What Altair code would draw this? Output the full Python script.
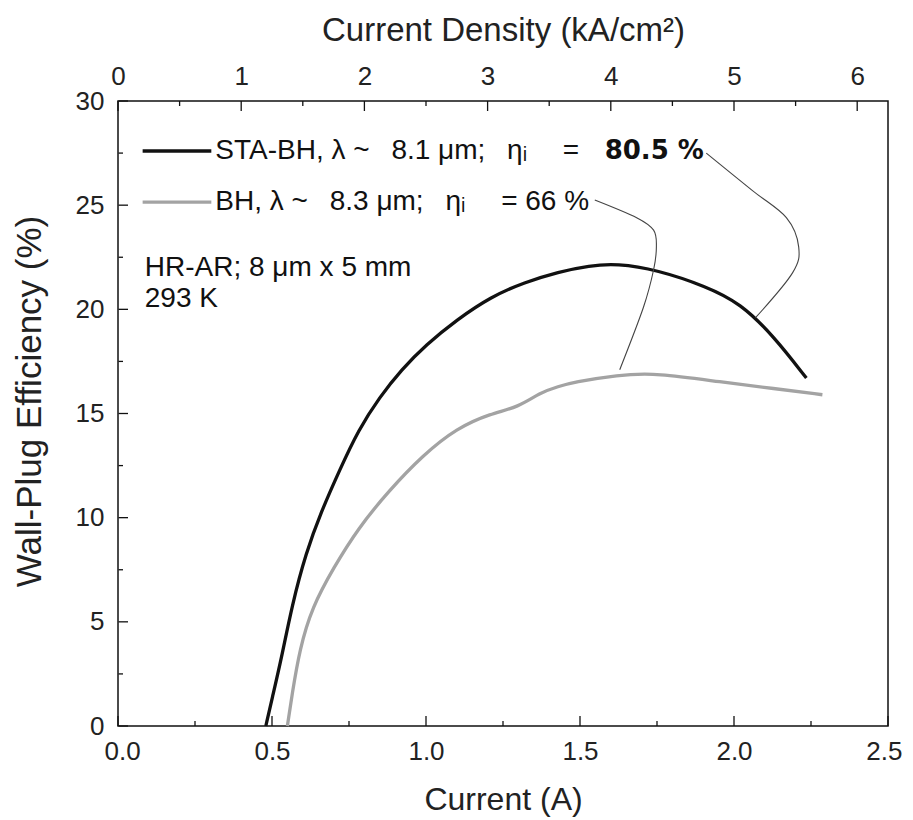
import altair as alt
import pandas as pd

# ---------------- data ----------------
series_names = ["STA-BH", "BH"]

sta_current = [0.48, 0.50, 0.53, 0.565, 0.61, 0.66, 0.72, 0.78, 0.85, 0.92, 1.0, 1.1,
               1.21, 1.32, 1.43, 1.53, 1.62, 1.75, 1.91, 2.02, 2.13, 2.235]
sta_wpe = [0.0, 1.3, 3.2, 5.8, 8.3, 10.3, 12.3, 14.2, 15.8, 17.1, 18.3, 19.5,
           20.6, 21.3, 21.8, 22.1, 22.2, 21.9, 21.1, 20.3, 18.7, 16.7]

bh_current = [0.55, 0.565, 0.59, 0.63, 0.70, 0.78, 0.88, 0.99, 1.10, 1.21, 1.30, 1.37,
              1.43, 1.48, 1.62, 1.75, 1.96, 2.13, 2.287]
bh_wpe = [0.0, 1.5, 3.7, 5.7, 7.6, 9.5, 11.3, 13.0, 14.3, 15.0, 15.3, 16.0,
          16.3, 16.5, 16.85, 16.95, 16.5, 16.2, 15.9]

# leader lines from the legend texts to the curves
lead_sta_x = [1.91, 2.06, 2.17, 2.21, 2.19, 2.07]
lead_sta_y = [27.5, 25.7, 24.4, 23.0, 21.75, 19.6]
lead_bh_x = [1.548, 1.684, 1.739, 1.748, 1.739, 1.706, 1.629]
lead_bh_y = [25.25, 24.4, 23.8, 23.0, 21.9, 20.1, 17.1]

# axis ticks
x_major = [0.0, 0.5, 1.0, 1.5, 2.0, 2.5]
x_minor = [0.25, 0.75, 1.25, 1.75, 2.25]
y_major = [0, 5, 10, 15, 20, 25, 30]
y_minor = [2.5, 7.5, 12.5, 17.5, 22.5, 27.5]
jd_major = [0, 1, 2, 3, 4, 5, 6]          # kA/cm^2
jd_minor = [0.5, 1.5, 2.5, 3.5, 4.5, 5.5]

# device area 8 um x 5 mm = 4e-4 cm^2  ->  1 kA/cm^2 = 0.4 A
AMPS_PER_KA_CM2 = 0.4

# text
EN, EM = "\u2002", "\u2003"
legend_labels = ["STA-BH, λ ~" + EN + " 8.1 μm;" + EN + " η\u1d62" + EM + " = ",
                 "BH, λ ~" + EN + " 8.3 μm;" + EN + " η\u1d62" + EM + " = 66 %"]
bold_label = "80.5 %"
info_labels = ["HR-AR; 8 μm x 5 mm", "293 K"]

# ---------------- layout / style ----------------
W, H = 770, 625
FONT = "Liberation Sans"
BLACK = "#111111"
GRAY = "#a3a3a3"
YMAX = 30
TICK_MAJ = 10   # px
TICK_MIN = 5    # px

legend_y = [27.6, 25.15]
legend_line_x = [0.08, 0.303]
legend_text_x = 0.316
bold_x = 1.58
info_x = 0.087
info_y = [22.0, 20.5]

xs = alt.Scale(domain=[0, 2.5], nice=False, zero=False)
ys = alt.Scale(domain=[0, YMAX], nice=False, zero=False)
col = alt.Scale(domain=series_names, range=[BLACK, GRAY])

curves = pd.DataFrame(
    {"series": ["STA-BH"] * len(sta_current) + ["BH"] * len(bh_current),
     "current": sta_current + bh_current,
     "wpe": sta_wpe + bh_wpe,
     "idx": list(range(len(sta_current))) + list(range(len(bh_current)))}
)

lines = alt.Chart(curves).mark_line(strokeWidth=3.3, interpolate="basis").encode(
    x=alt.X("current:Q", scale=xs,
            axis=alt.Axis(orient="bottom", values=x_major, format=".1f", title="Current (A)",
                          labelPadding=12, titlePadding=20, labelFlush=True, labelFlushOffset=14,
                          titleFontSize=32)),
    y=alt.Y("wpe:Q", scale=ys,
            axis=alt.Axis(orient="left", values=y_major, format="d", title="Wall-Plug Efficiency (%)",
                          labelPadding=14, titlePadding=28, labelFlush=False, titleFontSize=35,
                          titleY=300)),
    color=alt.Color("series:N", scale=col, legend=None),
    order="idx:Q",
)

leaders = pd.DataFrame(
    {"grp": ["a"] * len(lead_sta_x) + ["b"] * len(lead_bh_x),
     "current": lead_sta_x + lead_bh_x,
     "wpe": lead_sta_y + lead_bh_y,
     "idx": list(range(len(lead_sta_x))) + list(range(len(lead_bh_x)))}
)
lead = alt.Chart(leaders).mark_line(strokeWidth=1.1, color="#444444", interpolate="cardinal").encode(
    x=alt.X("current:Q", scale=xs, axis=None),
    y=alt.Y("wpe:Q", scale=ys, axis=None),
    detail="grp:N",
    order="idx:Q",
)

# inward ticks
def xticks(vals, length):
    return alt.Chart(pd.DataFrame({"current": vals})).mark_rule(color=BLACK, strokeWidth=1.3).encode(
        x=alt.X("current:Q", scale=xs, axis=None), y=alt.value(H), y2=alt.value(H - length))

def yticks(vals, length):
    return alt.Chart(pd.DataFrame({"wpe": vals})).mark_rule(color=BLACK, strokeWidth=1.3).encode(
        y=alt.Y("wpe:Q", scale=ys, axis=None), x=alt.value(0.5), x2=alt.value(length))

def topticks(vals, length, axis=None):
    return alt.Chart(pd.DataFrame({"current": vals})).mark_rule(color=BLACK, strokeWidth=1.3).encode(
        x=alt.X("current:Q", scale=xs, axis=axis),
        y=alt.Y(datum=YMAX, scale=ys, axis=None),
        y2=alt.datum(YMAX - YMAX * length / H))

jd_major_pos = [j * AMPS_PER_KA_CM2 for j in jd_major]
jd_minor_pos = [j * AMPS_PER_KA_CM2 for j in jd_minor]

top_axis_def = alt.Axis(orient="top", values=jd_major_pos,
                        labelExpr="format(datum.value / %s, '.0f')" % AMPS_PER_KA_CM2,
                        title="Current Density (kA/cm²)", labelPadding=12, titlePadding=16,
                        labelFlush=False, titleFontSize=33)

# legend
leg_df = pd.DataFrame({"series": series_names, "current": [legend_line_x[0]] * 2,
                       "current2": [legend_line_x[1]] * 2, "wpe": legend_y})
leg_lines = alt.Chart(leg_df).mark_rule(strokeWidth=3.3).encode(
    x=alt.X("current:Q", scale=xs, axis=None), x2="current2:Q",
    y=alt.Y("wpe:Q", scale=ys, axis=None),
    color=alt.Color("series:N", scale=col, legend=None),
)
leg_txt_df = pd.DataFrame({"label": legend_labels, "current": [legend_text_x] * 2, "wpe": legend_y})
leg_txt = alt.Chart(leg_txt_df).mark_text(align="left", baseline="middle", font=FONT,
                                          fontSize=28, color=BLACK).encode(
    x=alt.X("current:Q", scale=xs, axis=None), y=alt.Y("wpe:Q", scale=ys, axis=None), text="label:N")
bold_df = pd.DataFrame({"label": [bold_label], "current": [bold_x], "wpe": [legend_y[0]]})
bold_txt = alt.Chart(bold_df).mark_text(align="left", baseline="middle", font="DejaVu Sans", fontSize=26,
                                        fontWeight="bold", color=BLACK).encode(
    x=alt.X("current:Q", scale=xs, axis=None), y=alt.Y("wpe:Q", scale=ys, axis=None), text="label:N")

info_df = pd.DataFrame({"label": info_labels, "current": [info_x] * 2, "wpe": info_y})
info_txt = alt.Chart(info_df).mark_text(align="left", baseline="middle", font=FONT,
                                        fontSize=28, color=BLACK).encode(
    x=alt.X("current:Q", scale=xs, axis=None), y=alt.Y("wpe:Q", scale=ys, axis=None), text="label:N")

chart = alt.layer(
    lines, lead,
    xticks(x_major, TICK_MAJ), xticks(x_minor, TICK_MIN),
    yticks(y_major, TICK_MAJ), yticks(y_minor, TICK_MIN),
    topticks(jd_minor_pos, TICK_MIN), topticks(jd_major_pos, TICK_MAJ, top_axis_def),
    leg_lines, leg_txt, bold_txt, info_txt,
).resolve_axis(x="independent", y="independent").properties(
    width=W, height=H,
    autosize=alt.AutoSizeParams(type="none"),
    padding={"left": 110, "top": 93, "right": 17, "bottom": 92},
).configure_view(stroke=BLACK, strokeWidth=1.5).configure_axis(
    labelFont=FONT, labelFontSize=26, labelColor="#222222",
    titleFont=FONT, titleFontSize=31, titleFontWeight="normal", titleColor="#222222",
    domain=False, ticks=False, grid=False,
)

chart.save("out.html", embed_options={"renderer": "svg", "actions": False})
